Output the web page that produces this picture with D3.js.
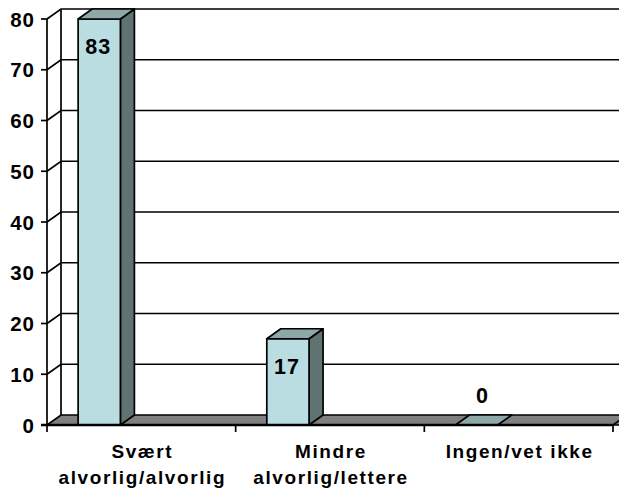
<!DOCTYPE html>
<html>
<head>
<meta charset="utf-8">
<script src="https://cdn.jsdelivr.net/npm/d3@7"></script>
<style>
  html, body { margin: 0; padding: 0; background: #fff; }
  svg { display: block; }
  text { font-family: "Liberation Sans", Arial, sans-serif; font-weight: bold; fill: #000; }
</style>
</head>
<body>
<div id="chart"></div>
<script>
// data
const categories = ["Svært alvorlig/alvorlig", "Mindre alvorlig/lettere", "Ingen/vet ikke"]
const categoryLines = [["Svært", "alvorlig/alvorlig"], ["Mindre", "alvorlig/lettere"], ["Ingen/vet ikke"]]
const values = [83, 17, 0]
const yTicks = [0, 10, 20, 30, 40, 50, 60, 70, 80]

function drawChart() {
  const dimensions = {
    width: 619,
    height: 494,
    margin: { top: 19, right: 6, bottom: 69, left: 47 },
  }
  dimensions.boundedWidth = dimensions.width - dimensions.margin.left - dimensions.margin.right
  dimensions.boundedHeight = dimensions.height - dimensions.margin.top - dimensions.margin.bottom

  // 3d depth offset of the back wall
  const depth = { dx: 14, dy: -10 }

  const colors = {
    front: "#b9dde0",
    side: "#5f7373",
    top: "#8ea8a9",
    floor: "#808080",
  }

  const svg = d3.select("#chart").append("svg")
    .attr("width", dimensions.width)
    .attr("height", dimensions.height)

  const yScale = d3.scaleLinear()
    .domain([0, 80])
    .range([dimensions.margin.top + dimensions.boundedHeight, dimensions.margin.top])

  const xScale = d3.scaleBand()
    .domain(categories)
    .range([dimensions.margin.left, dimensions.margin.left + dimensions.boundedWidth])
    .padding(0)

  const bw = xScale.bandwidth()
  const barX = c => xScale(c) + bw * 0.165
  const barW = bw * 0.224

  const x0 = xScale.range()[0], x1 = xScale.range()[1]
  const y0 = yScale(0)
  const line = d3.line()
  const sw = 1.7

  // side wall (left) and back wall lines
  yTicks.filter(t => t > 0).forEach(t => {
    svg.append("path")
      .attr("d", line([[x0, yScale(t)], [x0 + depth.dx, yScale(t) + depth.dy], [dimensions.width + 20, yScale(t) + depth.dy]]))
      .attr("fill", "none").attr("stroke", "#000").attr("stroke-width", sw)
  })
  svg.append("path")
    .attr("d", line([[x0 + depth.dx, yScale(80) + depth.dy], [x0 + depth.dx, y0 + depth.dy]]))
    .attr("stroke", "#000").attr("stroke-width", sw)

  // floor
  svg.append("path")
    .attr("d", line([[x0, y0], [x1 + 30, y0], [x1 + 30 + depth.dx, y0 + depth.dy], [x0 + depth.dx, y0 + depth.dy]]) + "Z")
    .attr("fill", colors.floor).attr("stroke", "#000").attr("stroke-width", sw)
  svg.append("path")
    .attr("d", line([[x1, y0], [x1 + depth.dx, y0 + depth.dy]]))
    .attr("stroke", "#000").attr("stroke-width", sw)

  // bars
  const bars = svg.append("g")
  categories.forEach((c, i) => {
    const v = Math.min(values[i], 80)
    const bx = barX(c)
    const yt = yScale(v)
    const g = bars.append("g").attr("stroke", "#000").attr("stroke-width", sw).attr("stroke-linejoin", "round")
    if (v > 0) {
      g.append("path")
        .attr("d", line([[bx + barW, y0], [bx + barW + depth.dx, y0 + depth.dy], [bx + barW + depth.dx, yt + depth.dy], [bx + barW, yt]]) + "Z")
        .attr("fill", colors.side)
      g.append("rect")
        .attr("x", bx).attr("y", yt).attr("width", barW).attr("height", y0 - yt)
        .attr("fill", colors.front)
    }
    g.append("path")
      .attr("d", line([[bx, yt], [bx + barW, yt], [bx + barW + depth.dx, yt + depth.dy], [bx + depth.dx, yt + depth.dy]]) + "Z")
      .attr("fill", colors.top)
  })

  // front axis
  svg.append("path")
    .attr("d", line([[x0, yScale(80)], [x0, y0 + 7]]))
    .attr("stroke", "#000").attr("stroke-width", sw)
  svg.append("path")
    .attr("d", line([[x0 - 6, y0], [x1, y0]]))
    .attr("stroke", "#000").attr("stroke-width", sw + 0.6)
  yTicks.forEach(t => {
    svg.append("path")
      .attr("d", line([[x0 - 6, yScale(t)], [x0, yScale(t)]]))
      .attr("stroke", "#000").attr("stroke-width", sw)
    svg.append("text")
      .attr("x", x0 - 12)
      .attr("y", yScale(t) + 7.5)
      .attr("text-anchor", "end")
      .style("font-size", "20.5px")
      .style("letter-spacing", "1px")
      .text(t)
  })
  categories.forEach(c => {
    const xx = xScale(c) + bw
    svg.append("path")
      .attr("d", line([[xx, y0], [xx, y0 + 7]]))
      .attr("stroke", "#000").attr("stroke-width", sw)
  })

  // category labels
  categories.forEach((c, i) => {
    const t = svg.append("text")
      .attr("text-anchor", "middle")
      .style("font-size", "19px")
      .style("letter-spacing", "1.6px")
    categoryLines[i].forEach((l, j) => {
      t.append("tspan")
        .attr("x", xScale(c) + bw / 2 + 1)
        .attr("y", y0 + 33 + j * 26)
        .text(l)
    })
  })

  // data labels
  categories.forEach((c, i) => {
    const v = Math.min(values[i], 80)
    const cx = barX(c) + barW / 2 - 1 + (values[i] === 0 ? depth.dx / 2 : 0)
    const yy = values[i] > 0 ? yScale(v) + 35 : y0 - 22
    svg.append("text")
      .attr("x", cx)
      .attr("y", yy)
      .attr("text-anchor", "middle")
      .style("font-size", "21.5px")
      .style("letter-spacing", "1px")
      .text(values[i])
  })
}

drawChart()
</script>
</body>
</html>
